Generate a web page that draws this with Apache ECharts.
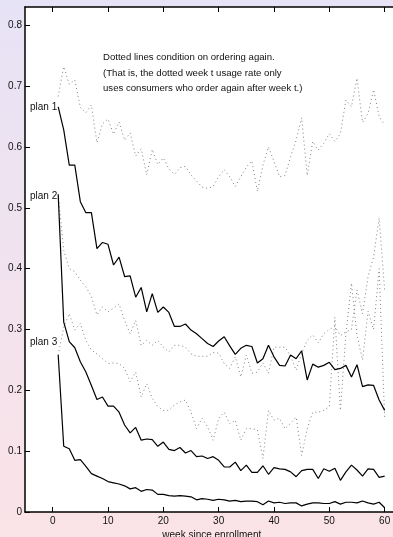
<!DOCTYPE html>
<html>
<head>
<meta charset="utf-8">
<script src="https://cdn.jsdelivr.net/npm/echarts@6/dist/echarts.min.js"></script>
<style>
  html, body { margin: 0; padding: 0; }
  #chart { width: 393px; height: 537px; }
</style>
</head>
<body>
<div id="chart"></div>
<script>
// weeks since enrollment (x values)
const weeks = Array.from({ length: 60 }, (_, i) => i + 1);
const xTicks = [0, 10, 20, 30, 40, 50, 60];
const yTicks = [0, 0.1, 0.2, 0.3, 0.4, 0.5, 0.6, 0.7, 0.8];

// usage rate, all consumers (solid)
const plan1 = [0.666, 0.628, 0.570, 0.570, 0.510, 0.492, 0.492, 0.433, 0.443, 0.440,
  0.406, 0.419, 0.387, 0.388, 0.353, 0.369, 0.329, 0.359, 0.328, 0.337,
  0.328, 0.305, 0.305, 0.309, 0.299, 0.293, 0.285, 0.277, 0.272, 0.281,
  0.288, 0.273, 0.259, 0.269, 0.274, 0.272, 0.245, 0.252, 0.274, 0.255,
  0.241, 0.240, 0.258, 0.252, 0.265, 0.217, 0.243, 0.238, 0.241, 0.246,
  0.234, 0.236, 0.241, 0.222, 0.242, 0.206, 0.209, 0.208, 0.184, 0.167];
const plan2 = [0.522, 0.312, 0.280, 0.270, 0.247, 0.230, 0.208, 0.185, 0.189, 0.174,
  0.174, 0.164, 0.143, 0.130, 0.139, 0.118, 0.120, 0.119, 0.108, 0.115,
  0.103, 0.101, 0.106, 0.097, 0.101, 0.091, 0.092, 0.088, 0.091, 0.085,
  0.074, 0.074, 0.082, 0.068, 0.077, 0.065, 0.065, 0.076, 0.062, 0.073,
  0.071, 0.070, 0.066, 0.058, 0.068, 0.070, 0.070, 0.055, 0.071, 0.067,
  0.072, 0.052, 0.066, 0.077, 0.069, 0.059, 0.071, 0.070, 0.057, 0.059];
const plan3 = [0.258, 0.108, 0.104, 0.085, 0.086, 0.075, 0.063, 0.059, 0.055, 0.050,
  0.048, 0.046, 0.043, 0.038, 0.040, 0.034, 0.037, 0.036, 0.029, 0.029,
  0.027, 0.026, 0.027, 0.026, 0.025, 0.020, 0.022, 0.021, 0.019, 0.021,
  0.020, 0.018, 0.019, 0.017, 0.018, 0.018, 0.017, 0.012, 0.018, 0.015,
  0.016, 0.014, 0.015, 0.015, 0.010, 0.013, 0.015, 0.015, 0.014, 0.014,
  0.017, 0.013, 0.016, 0.016, 0.015, 0.018, 0.015, 0.013, 0.016, 0.007];

// usage rate, only consumers who order again after week t (dotted)
const plan1Again = [0.683, 0.732, 0.703, 0.710, 0.665, 0.656, 0.669, 0.607, 0.638, 0.646,
  0.621, 0.641, 0.611, 0.623, 0.585, 0.597, 0.554, 0.596, 0.571, 0.582,
  0.564, 0.555, 0.566, 0.568, 0.554, 0.544, 0.534, 0.532, 0.535, 0.551,
  0.563, 0.551, 0.535, 0.551, 0.567, 0.577, 0.527, 0.570, 0.600, 0.576,
  0.551, 0.553, 0.584, 0.611, 0.648, 0.553, 0.609, 0.595, 0.606, 0.622,
  0.609, 0.622, 0.677, 0.666, 0.713, 0.640, 0.655, 0.694, 0.650, 0.636];
const plan2Again = [0.522, 0.430, 0.400, 0.395, 0.381, 0.370, 0.354, 0.324, 0.337, 0.329,
  0.335, 0.342, 0.315, 0.293, 0.315, 0.274, 0.282, 0.274, 0.282, 0.271,
  0.263, 0.274, 0.274, 0.271, 0.260, 0.256, 0.256, 0.256, 0.262, 0.261,
  0.244, 0.236, 0.255, 0.222, 0.258, 0.228, 0.230, 0.245, 0.228, 0.271,
  0.271, 0.271, 0.256, 0.233, 0.261, 0.282, 0.291, 0.278, 0.293, 0.300,
  0.305, 0.290, 0.296, 0.300, 0.365, 0.326, 0.387, 0.419, 0.483, 0.365];
const plan3Again = [0.258, 0.304, 0.326, 0.299, 0.310, 0.282, 0.266, 0.260, 0.252, 0.244,
  0.245, 0.244, 0.236, 0.214, 0.230, 0.189, 0.211, 0.187, 0.173, 0.167,
  0.167, 0.176, 0.181, 0.184, 0.164, 0.137, 0.154, 0.140, 0.118, 0.154,
  0.164, 0.145, 0.151, 0.118, 0.137, 0.137, 0.135, 0.088, 0.167, 0.151,
  0.154, 0.137, 0.146, 0.156, 0.093, 0.137, 0.164, 0.164, 0.167, 0.173,
  0.320, 0.167, 0.293, 0.376, 0.290, 0.250, 0.330, 0.300, 0.400, 0.155];

const planNames = ["plan 1", "plan 2", "plan 3"];
const note = [
  "Dotted lines condition on ordering again.",
  "(That is, the dotted week t usage rate only",
  "uses consumers who order again after week t.)"
];

const textFont = "Liberation Sans, Arial, sans-serif";

function toPoints(values, label, labelOffset) {
  return values.map((v, i) => {
    const p = { value: [weeks[i], v] };
    if (i === 0 && label) {
      p.label = {
        show: true,
        formatter: label,
        position: "left",
        distance: 1,
        offset: labelOffset || [0, 0],
        fontSize: 10,
        color: "#111",
        fontFamily: textFont
      };
    }
    return p;
  });
}

function solid(values, label, labelOffset) {
  return {
    type: "line",
    data: toPoints(values, label, labelOffset),
    symbol: "circle",
    symbolSize: 0,
    showAllSymbol: true,
    lineStyle: { color: "#000", width: 1.2 },
    itemStyle: { color: "#000" },
    z: 3
  };
}

function dotted(values) {
  return {
    type: "line",
    data: toPoints(values),
    symbol: "none",
    lineStyle: { color: "#808080", width: 1, type: [1, 3] },
    z: 2
  };
}

let myChart = echarts.init(document.getElementById("chart"));

const axisText = { fontSize: 10, color: "#111", fontFamily: textFont };

myChart.setOption({
  animation: false,
  backgroundColor: new echarts.graphic.LinearGradient(0, 0, 0, 1, [
    { offset: 0, color: "#e7e3f6" },
    { offset: 1, color: "#fbe3e7" }
  ]),
  grid: {
    left: 25,
    top: 7,
    width: 373.5,
    height: 505,
    containLabel: false,
    outerBoundsMode: "none",
    show: true,
    backgroundColor: "#fff",
    borderWidth: 0
  },
  xAxis: [
    {
      type: "value",
      min: -5,
      max: 62.5,
      position: "bottom",
      name: "week since enrollment",
      nameLocation: "middle",
      nameGap: 18,
      nameMoveOverlap: false,
      nameTextStyle: axisText,
      axisLine: { show: true, onZero: false, lineStyle: { color: "#000", width: 1.5 } },
      axisTick: { show: true, inside: true, length: 5, customValues: xTicks, lineStyle: { color: "#000" } },
      axisLabel: Object.assign({ margin: 4, customValues: xTicks }, axisText),
      splitLine: { show: false }
    },
    {
      type: "value",
      min: -5,
      max: 62.5,
      position: "top",
      axisLine: { show: true, onZero: false, lineStyle: { color: "#000", width: 1.5 } },
      axisTick: { show: true, inside: true, length: 5, customValues: xTicks, lineStyle: { color: "#000" } },
      axisLabel: { show: false },
      splitLine: { show: false }
    }
  ],
  yAxis: [
    {
      type: "value",
      min: 0,
      max: 0.83,
      position: "left",
      axisLine: { show: true, onZero: false, lineStyle: { color: "#000", width: 1.5 } },
      axisTick: { show: true, inside: true, length: 5, customValues: yTicks, lineStyle: { color: "#000" } },
      axisLabel: Object.assign({
        margin: 3,
        customValues: yTicks,
        formatter: v => (v === 0 ? "0" : v.toFixed(1))
      }, axisText),
      splitLine: { show: false }
    },
    {
      type: "value",
      min: 0,
      max: 0.83,
      position: "right",
      axisLine: { show: true, onZero: false, lineStyle: { color: "#000", width: 1.5 } },
      axisTick: { show: true, inside: true, length: 5, customValues: yTicks, lineStyle: { color: "#000" } },
      axisLabel: { show: false },
      splitLine: { show: false }
    }
  ],
  graphic: [
    {
      type: "text",
      left: 103,
      top: 50,
      style: {
        text: note.join("\n"),
        fontSize: 9.6,
        lineHeight: 15.5,
        fill: "#111",
        fontFamily: textFont
      }
    }
  ],
  series: [
    dotted(plan1Again),
    dotted(plan2Again),
    dotted(plan3Again),
    solid(plan1, planNames[0]),
    solid(plan2, planNames[1], [0, 2]),
    solid(plan3, planNames[2], [0, -13])
  ]
});
</script>
</body>
</html>
